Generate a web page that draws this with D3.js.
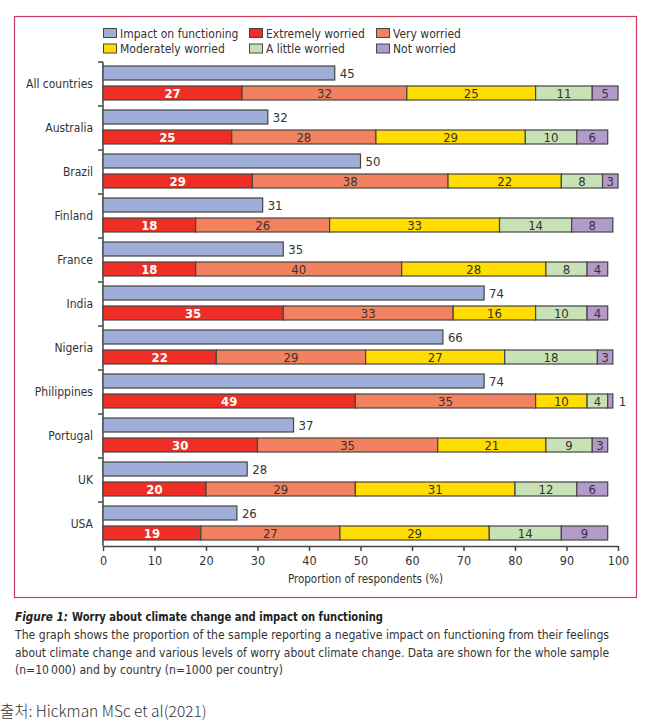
<!DOCTYPE html>
<html>
<head>
<meta charset="utf-8">
<script src="https://cdn.jsdelivr.net/npm/d3@7/dist/d3.min.js"></script>
<style>
  body { margin: 0; background: #fff; }
  svg text { font-family: "DejaVu Sans Condensed", "Liberation Sans", sans-serif; }
</style>
</head>
<body>
<div id="chartDiv"></div>
<script>

// ---- data ----
var countries = ["All countries", "Australia", "Brazil", "Finland", "France", "India",
                 "Nigeria", "Philippines", "Portugal", "UK", "USA"];
var impact    = [45, 32, 50, 31, 35, 74, 66, 74, 37, 28, 26];
var extremely = [27, 25, 29, 18, 18, 35, 22, 49, 30, 20, 19];
var very      = [32, 28, 38, 26, 40, 33, 29, 35, 35, 29, 27];
var moderately= [25, 29, 22, 33, 28, 16, 27, 10, 21, 31, 29];
var little    = [11, 10,  8, 14,  8, 10, 18,  4,  9, 12, 14];
var notWorried= [ 5,  6,  3,  8,  4,  4,  3,  1,  3,  6,  9];
var xTicks = [0, 10, 20, 30, 40, 50, 60, 70, 80, 90, 100];
var legendLabels = ["Impact on functioning", "Extremely worried", "Very worried",
                    "Moderately worried", "A little worried", "Not worried"];

;(function() {

	var width = 650;
	var height = 726;
	var margin = { top: 62, left: 103 };
	var chartWidth = 515;
	var bandH = 44;
	var barH = 14;

	var colors = ["#9eaed6", "#ee2e24", "#f2825f", "#ffdd00", "#c9e1b6", "#b39bc9"];
	var stroke = "#454545";
	var frameColor = "#cc3a5c";

	var worry = [extremely, very, moderately, little, notWorried];

	var svg = d3.select("#chartDiv").append("svg")
		.attr("width", width)
		.attr("height", height);

	// frame round the chart
	svg.append("rect")
		.attr("x", 14.5).attr("y", 16.5)
		.attr("width", 622).attr("height", 581)
		.attr("fill", "none")
		.attr("stroke", frameColor)
		.attr("stroke-width", 1.2);

	var xScale = d3.scaleLinear().domain([0, 100]).range([0, chartWidth]);
	var yScale = d3.scaleBand().domain(countries).range([0, countries.length * bandH]);

	var plot = svg.append("g")
		.attr("transform", "translate(" + margin.left + "," + margin.top + ")");

	// legend
	var legend = svg.append("g");
	legendLabels.forEach(function(lbl, i) {
		var col = i % 3, row = Math.floor(i / 3);
		var lx = [103, 249, 376][col];
		var ly = 28 + row * 15.5;
		legend.append("rect")
			.attr("x", lx + 0.5).attr("y", ly + 0.5)
			.attr("width", 13).attr("height", 9)
			.attr("fill", colors[i]).attr("stroke", stroke).attr("stroke-width", 1);
		legend.append("text")
			.attr("x", lx + 17).attr("y", ly + 9.5)
			.style("font-size", "12px").attr("fill", "#333")
			.text(lbl);
	});

	// x axis
	var xAxis = d3.axisBottom(xScale).tickValues(xTicks).tickSize(5).tickSizeOuter(0);
	var xg = plot.append("g")
		.attr("transform", "translate(0," + (countries.length * bandH) + ")")
		.call(xAxis);
	xg.select(".domain").attr("stroke", stroke).attr("stroke-width", 1.5);
	xg.selectAll(".tick line").attr("stroke", stroke).attr("stroke-width", 1.5);
	xg.selectAll(".tick text").style("font-size", "12.5px").attr("fill", "#333").attr("dy", "0.9em");

	svg.append("text")
		.attr("x", margin.left + chartWidth / 2 + 5).attr("y", 583)
		.attr("text-anchor", "middle")
		.style("font-size", "11.5px").attr("fill", "#333")
		.text("Proportion of respondents (%)");

	// y axis: line with ticks at band boundaries
	plot.append("line")
		.attr("x1", 0).attr("x2", 0)
		.attr("y1", 0).attr("y2", countries.length * bandH)
		.attr("stroke", stroke).attr("stroke-width", 1.5);
	plot.selectAll(".ytick").data(countries).enter().append("line")
		.attr("class", "ytick")
		.attr("x1", -5).attr("x2", 0)
		.attr("y1", function(d) { return yScale(d); })
		.attr("y2", function(d) { return yScale(d); })
		.attr("stroke", stroke).attr("stroke-width", 1.5);
	plot.selectAll(".ylabel").data(countries).enter().append("text")
		.attr("class", "ylabel")
		.attr("x", -10)
		.attr("y", function(d) { return yScale(d) + 26; })
		.attr("text-anchor", "end")
		.style("font-size", "12px").attr("fill", "#333")
		.text(function(d) { return d; });

	// impact bars
	plot.selectAll(".impact").data(countries).enter().append("rect")
		.attr("class", "impact")
		.attr("x", 0)
		.attr("y", function(d) { return yScale(d) + 4; })
		.attr("width", function(d, i) { return xScale(impact[i]); })
		.attr("height", barH)
		.attr("fill", colors[0]).attr("stroke", stroke).attr("stroke-width", 1.2);
	plot.selectAll(".impactLabel").data(countries).enter().append("text")
		.attr("class", "impactLabel")
		.attr("x", function(d, i) { return xScale(impact[i]) + 5; })
		.attr("y", function(d) { return yScale(d) + 16; })
		.style("font-size", "13px").attr("fill", "#333")
		.text(function(d, i) { return impact[i]; });

	// stacked worry bars
	var rows = countries.map(function(c, i) {
		var acc = 0;
		return worry.map(function(s, k) {
			var seg = { country: c, k: k, v: s[i], x0: acc, x1: acc + s[i] };
			acc += s[i];
			return seg;
		});
	});
	var segs = [].concat.apply([], rows);

	plot.selectAll(".seg").data(segs).enter().append("rect")
		.attr("class", "seg")
		.attr("x", function(d) { return xScale(d.x0); })
		.attr("y", function(d) { return yScale(d.country) + 24; })
		.attr("width", function(d) { return xScale(d.x1) - xScale(d.x0); })
		.attr("height", barH)
		.attr("fill", function(d) { return colors[d.k + 1]; })
		.attr("stroke", stroke).attr("stroke-width", 1.2);

	plot.selectAll(".segLabel").data(segs).enter().append("text")
		.attr("class", "segLabel")
		.attr("x", function(d) {
			if (d.v < 2) return xScale(d.x1) + 6;
			return xScale((d.x0 + d.x1) / 2);
		})
		.attr("y", function(d) { return yScale(d.country) + 36; })
		.attr("text-anchor", function(d) { return d.v < 2 ? "start" : "middle"; })
		.style("font-size", "13px")
		.style("font-weight", function(d) { return d.k == 0 ? "bold" : "normal"; })
		.attr("fill", function(d) { return d.k == 0 ? "#fff" : "#333"; })
		.text(function(d) { return d.v; });

	// caption
	svg.append("text").attr("x", 15).attr("y", 621)
		.attr("textLength", 53).attr("lengthAdjust", "spacingAndGlyphs")
		.style("font-size", "11.5px").style("font-weight", "bold").style("font-style", "italic")
		.attr("fill", "#222")
		.text("Figure 1:");
	svg.append("text").attr("x", 72).attr("y", 621)
		.attr("textLength", 311).attr("lengthAdjust", "spacingAndGlyphs")
		.style("font-size", "12px").style("font-weight", "bold").attr("fill", "#222")
		.text("Worry about climate change and impact on functioning");

	var capLines = [
		"The graph shows the proportion of the sample reporting a negative impact on functioning from their feelings",
		"about climate change and various levels of worry about climate change. Data are shown for the whole sample",
		"(n=10\u2009000) and by country (n=1000 per country)"
	];
	var capWidths = [594, 594, 268];
	capLines.forEach(function(l, i) {
		svg.append("text")
			.attr("x", 15).attr("y", 639 + i * 17.5)
			.attr("textLength", capWidths[i]).attr("lengthAdjust", "spacingAndGlyphs")
			.style("font-size", "12px").attr("fill", "#333")
			.text(l);
	});

	svg.append("text")
		.attr("x", 0).attr("y", 717)
		.style("font-family", "'Noto Sans CJK KR', 'Noto Sans', sans-serif")
		.style("font-size", "15.5px").style("font-weight", "300").attr("fill", "#333")
		.text("출처: Hickman MSc et al(2021)");

})();
</script>
</body>
</html>
